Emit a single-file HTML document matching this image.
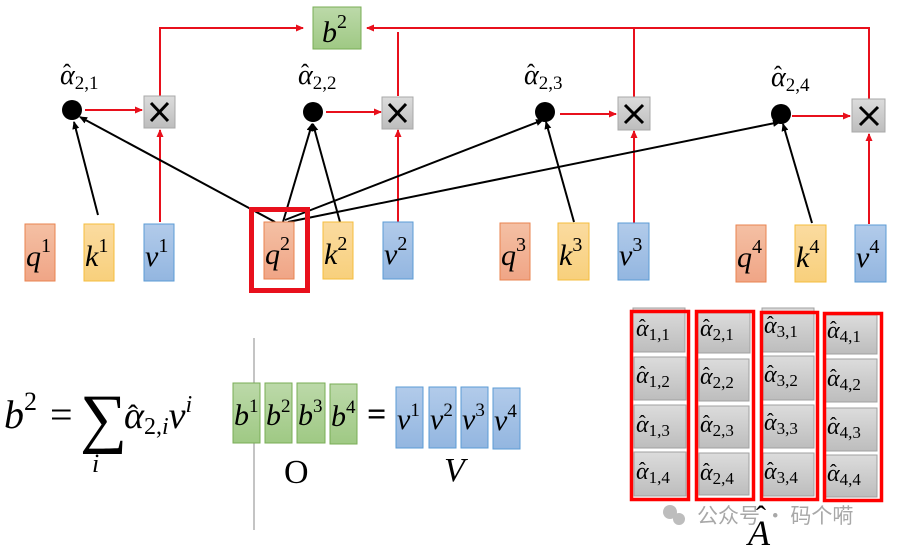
<!DOCTYPE html>
<html><head><meta charset="utf-8"><style>
html,body{margin:0;padding:0;background:#fff}
svg{display:block}
text{font-family:"Liberation Serif","DejaVu Serif",serif;font-style:italic;fill:#000}
.up{font-style:normal}
</style></head><body>
<svg width="899" height="551" viewBox="0 0 899 551" xmlns="http://www.w3.org/2000/svg">
<defs>
<linearGradient id="gq" x1="0" y1="0" x2="0" y2="1"><stop offset="0" stop-color="#f4c0a4"/><stop offset="1" stop-color="#f0a586"/></linearGradient>
<linearGradient id="gk" x1="0" y1="0" x2="0" y2="1"><stop offset="0" stop-color="#fbdba0"/><stop offset="1" stop-color="#f8d07c"/></linearGradient>
<linearGradient id="gv" x1="0" y1="0" x2="0" y2="1"><stop offset="0" stop-color="#b2cbea"/><stop offset="1" stop-color="#93b6e0"/></linearGradient>
<linearGradient id="gb" x1="0" y1="0" x2="0" y2="1"><stop offset="0" stop-color="#bcd9a9"/><stop offset="1" stop-color="#9fc984"/></linearGradient>
<linearGradient id="gg" x1="0" y1="0" x2="0" y2="1"><stop offset="0" stop-color="#dcdcdc"/><stop offset="1" stop-color="#bdbdbd"/></linearGradient>
<marker id="ar" markerWidth="8" markerHeight="8" refX="7" refY="4" orient="auto" markerUnits="userSpaceOnUse"><path d="M0,0.5 L8,4 L0,7.5z" fill="#e8101c"/></marker>
<marker id="ab" markerWidth="8" markerHeight="8" refX="7" refY="4" orient="auto" markerUnits="userSpaceOnUse"><path d="M0,0.5 L8,4 L0,7.5z" fill="#000"/></marker>
</defs>

<g stroke="#e8101c" stroke-width="2" fill="none">
<polyline points="160,96 160,28 303,28" marker-end="url(#ar)"/>
<polyline points="869,99 869,28 367,28" marker-end="url(#ar)"/>
<line x1="398" y1="96" x2="398" y2="32"/>
<line x1="634" y1="97" x2="634" y2="28"/>
<line x1="85" y1="110" x2="142" y2="110" marker-end="url(#ar)"/>
<line x1="326" y1="112" x2="381" y2="112" marker-end="url(#ar)"/>
<line x1="560" y1="114" x2="616" y2="114" marker-end="url(#ar)"/>
<line x1="792" y1="116" x2="850" y2="116" marker-end="url(#ar)"/>
<line x1="160" y1="222" x2="160" y2="130" marker-end="url(#ar)"/>
<line x1="398" y1="222" x2="398" y2="130" marker-end="url(#ar)"/>
<line x1="634" y1="223" x2="634" y2="131" marker-end="url(#ar)"/>
<line x1="869" y1="224" x2="869" y2="134" marker-end="url(#ar)"/>
</g>
<g stroke="#000" stroke-width="2" fill="none" marker-end="url(#ab)">
<line x1="98" y1="215" x2="74" y2="122"/>
<line x1="275" y1="222" x2="80" y2="117"/>
<line x1="283" y1="222" x2="312" y2="124"/>
<line x1="340" y1="222" x2="313" y2="124"/>
<line x1="285" y1="220" x2="543" y2="120"/>
<line x1="288" y1="222" x2="780" y2="122"/>
<line x1="574" y1="222" x2="546" y2="122"/>
<line x1="812" y1="223" x2="783" y2="124"/>
</g>

<rect x="313" y="7" width="48" height="42" fill="url(#gb)" stroke="#78ad55"/>
<text x="322" y="42" font-size="30">b<tspan font-size="20" dy="-14" class="up">2</tspan></text>

<g fill="#000"><circle cx="72" cy="110" r="10"/><circle cx="313" cy="112" r="10"/><circle cx="545" cy="112" r="10"/><circle cx="781" cy="114" r="10"/></g>
<g font-size="28">
<text x="60" y="84">α<tspan font-size="19" dy="5" class="up">2,1</tspan></text>
<text x="298" y="84">α<tspan font-size="19" dy="5" class="up">2,2</tspan></text>
<text x="524" y="84">α<tspan font-size="19" dy="5" class="up">2,3</tspan></text>
<text x="771" y="86">α<tspan font-size="19" dy="5" class="up">2,4</tspan></text>
</g>
<g font-size="24">
<text class="up" x="63" y="81">ˆ</text><text class="up" x="301" y="81">ˆ</text><text class="up" x="527" y="81">ˆ</text><text class="up" x="774" y="83">ˆ</text>
</g>
<g fill="url(#gg)" stroke="#a8a8a8">
<rect x="144" y="96" width="31" height="32"/><rect x="382" y="97" width="31" height="32"/><rect x="618" y="97" width="32" height="33"/><rect x="852" y="99" width="33" height="33"/>
</g>
<g stroke="#000" stroke-width="3">
<path d="M151,103 L168,121 M168,103 L151,121"/>
<path d="M389,104 L406,122 M406,104 L389,122"/>
<path d="M625,105 L643,123 M643,105 L625,123"/>
<path d="M860,107 L878,125 M878,107 L860,125"/>
</g>

<g font-size="30">
<rect x="25" y="224" width="30" height="57" fill="url(#gq)" stroke="#e9834f"/><text x="26" y="266">q<tspan font-size="20" dy="-14" class="up">1</tspan></text>
<rect x="84" y="224" width="30" height="57" fill="url(#gk)" stroke="#f5bd3c"/><text x="85" y="266">k<tspan font-size="20" dy="-14" class="up">1</tspan></text>
<rect x="144" y="224" width="30" height="57" fill="url(#gv)" stroke="#5b9bd5"/><text x="145" y="266">v<tspan font-size="20" dy="-14" class="up">1</tspan></text>
<rect x="251.5" y="209.5" width="56" height="81" fill="none" stroke="#e8101c" stroke-width="5"/>
<rect x="264" y="222" width="30" height="57" fill="url(#gq)" stroke="#e9834f"/><text x="265" y="264">q<tspan font-size="20" dy="-14" class="up">2</tspan></text>
<rect x="323" y="222" width="30" height="57" fill="url(#gk)" stroke="#f5bd3c"/><text x="324" y="264">k<tspan font-size="20" dy="-14" class="up">2</tspan></text>
<rect x="383" y="222" width="30" height="57" fill="url(#gv)" stroke="#5b9bd5"/><text x="384" y="264">v<tspan font-size="20" dy="-14" class="up">2</tspan></text>
<rect x="500" y="223" width="30" height="57" fill="url(#gq)" stroke="#e9834f"/><text x="501" y="265">q<tspan font-size="20" dy="-14" class="up">3</tspan></text>
<rect x="558" y="223" width="31" height="57" fill="url(#gk)" stroke="#f5bd3c"/><text x="559" y="265">k<tspan font-size="20" dy="-14" class="up">3</tspan></text>
<rect x="618" y="223" width="31" height="57" fill="url(#gv)" stroke="#5b9bd5"/><text x="619" y="265">v<tspan font-size="20" dy="-14" class="up">3</tspan></text>
<rect x="736" y="225" width="30" height="57" fill="url(#gq)" stroke="#e9834f"/><text x="737" y="267">q<tspan font-size="20" dy="-14" class="up">4</tspan></text>
<rect x="795" y="225" width="31" height="57" fill="url(#gk)" stroke="#f5bd3c"/><text x="796" y="267">k<tspan font-size="20" dy="-14" class="up">4</tspan></text>
<rect x="855" y="225" width="31" height="57" fill="url(#gv)" stroke="#5b9bd5"/><text x="856" y="267">v<tspan font-size="20" dy="-14" class="up">4</tspan></text>
</g>

<text x="4" y="428" font-size="40">b<tspan font-size="26" dy="-18" class="up">2</tspan></text>
<text x="50" y="428" font-size="40" class="up">=</text>
<text x="80" y="440" font-size="66" class="up">∑</text>
<text x="92" y="472" font-size="26">i</text>
<text x="124" y="428" font-size="38">α<tspan font-size="24" dy="6" class="up">2,</tspan><tspan font-size="24">i</tspan><tspan dy="-6">v</tspan><tspan font-size="24" dy="-16">i</tspan></text>
<text class="up" x="128" y="425" font-size="30">ˆ</text>
<line x1="254" y1="338" x2="254" y2="530" stroke="#888" stroke-width="1"/>

<g font-size="30">
<rect x="233" y="383" width="27" height="60" fill="url(#gb)" stroke="#78ad55"/><text x="234" y="425">b<tspan font-size="19" dy="-13" class="up">1</tspan></text>
<rect x="265" y="383" width="27" height="60" fill="url(#gb)" stroke="#78ad55"/><text x="266" y="425">b<tspan font-size="19" dy="-13" class="up">2</tspan></text>
<rect x="297" y="383" width="28" height="60" fill="url(#gb)" stroke="#78ad55"/><text x="298" y="425">b<tspan font-size="19" dy="-13" class="up">3</tspan></text>
<rect x="330" y="384" width="27" height="60" fill="url(#gb)" stroke="#78ad55"/><text x="331" y="426">b<tspan font-size="19" dy="-13" class="up">4</tspan></text>
<text x="367" y="425" font-size="34" font-weight="bold" class="up" font-family="Liberation Sans">=</text>
<rect x="396" y="387" width="27" height="61" fill="url(#gv)" stroke="#5b9bd5"/><text x="397" y="429">v<tspan font-size="19" dy="-13" class="up">1</tspan></text>
<rect x="429" y="387" width="27" height="61" fill="url(#gv)" stroke="#5b9bd5"/><text x="430" y="429">v<tspan font-size="19" dy="-13" class="up">2</tspan></text>
<rect x="461" y="387" width="27" height="61" fill="url(#gv)" stroke="#5b9bd5"/><text x="462" y="429">v<tspan font-size="19" dy="-13" class="up">3</tspan></text>
<rect x="493" y="388" width="27" height="61" fill="url(#gv)" stroke="#5b9bd5"/><text x="494" y="430">v<tspan font-size="19" dy="-13" class="up">4</tspan></text>
</g>
<text x="284" y="483" font-size="34" class="up">O</text>
<text x="444" y="481" font-size="34">V</text>

<g fill="url(#gg)" stroke="#a0a0a0">
<rect x="633" y="308" width="52" height="44"/><rect x="634" y="357" width="52" height="43"/><rect x="634" y="405" width="52" height="43"/><rect x="634" y="452" width="52" height="44"/>
<rect x="698" y="313" width="52" height="40"/><rect x="699" y="359" width="50" height="42"/><rect x="699" y="406" width="50" height="42"/><rect x="699" y="453" width="50" height="42"/>
<rect x="762" y="308" width="52" height="44"/><rect x="763" y="356" width="51" height="44"/><rect x="763" y="405" width="51" height="43"/><rect x="763" y="453" width="51" height="43"/>
<rect x="825" y="315" width="52" height="39"/><rect x="825" y="359" width="52" height="43"/><rect x="825" y="408" width="52" height="43"/><rect x="825" y="455" width="52" height="42"/>
</g>
<g font-size="24">
<text x="636" y="336">α<tspan font-size="17" dy="4" class="up">1,1</tspan></text>
<text x="636" y="383">α<tspan font-size="17" dy="4" class="up">1,2</tspan></text>
<text x="636" y="432">α<tspan font-size="17" dy="4" class="up">1,3</tspan></text>
<text x="636" y="479">α<tspan font-size="17" dy="4" class="up">1,4</tspan></text>
<text x="700" y="336">α<tspan font-size="17" dy="4" class="up">2,1</tspan></text>
<text x="700" y="384">α<tspan font-size="17" dy="4" class="up">2,2</tspan></text>
<text x="700" y="432">α<tspan font-size="17" dy="4" class="up">2,3</tspan></text>
<text x="700" y="480">α<tspan font-size="17" dy="4" class="up">2,4</tspan></text>
<text x="764" y="333">α<tspan font-size="17" dy="4" class="up">3,1</tspan></text>
<text x="764" y="382">α<tspan font-size="17" dy="4" class="up">3,2</tspan></text>
<text x="764" y="430">α<tspan font-size="17" dy="4" class="up">3,3</tspan></text>
<text x="764" y="479">α<tspan font-size="17" dy="4" class="up">3,4</tspan></text>
<text x="827" y="338">α<tspan font-size="17" dy="4" class="up">4,1</tspan></text>
<text x="827" y="386">α<tspan font-size="17" dy="4" class="up">4,2</tspan></text>
<text x="827" y="434">α<tspan font-size="17" dy="4" class="up">4,3</tspan></text>
<text x="827" y="481">α<tspan font-size="17" dy="4" class="up">4,4</tspan></text>
</g>
<g font-size="20">
<text class="up" x="639" y="333">ˆ</text><text class="up" x="639" y="380">ˆ</text><text class="up" x="639" y="429">ˆ</text><text class="up" x="639" y="476">ˆ</text>
<text class="up" x="703" y="333">ˆ</text><text class="up" x="703" y="381">ˆ</text><text class="up" x="703" y="429">ˆ</text><text class="up" x="703" y="477">ˆ</text>
<text class="up" x="767" y="330">ˆ</text><text class="up" x="767" y="379">ˆ</text><text class="up" x="767" y="427">ˆ</text><text class="up" x="767" y="476">ˆ</text>
<text class="up" x="830" y="335">ˆ</text><text class="up" x="830" y="383">ˆ</text><text class="up" x="830" y="431">ˆ</text><text class="up" x="830" y="478">ˆ</text>
</g>
<g fill="none" stroke="#f00" stroke-width="3.5">
<rect x="631.5" y="311.5" width="57" height="188"/>
<rect x="696.5" y="311.5" width="57" height="188"/>
<rect x="761.5" y="312.5" width="56" height="187"/>
<rect x="824.5" y="313.5" width="57" height="187"/>
</g>
<text x="748" y="545" font-size="36">A</text>
<text class="up" x="756" y="526" font-size="30">ˆ</text>
<g fill="#bdbdbd"><circle cx="670" cy="512" r="7"/><circle cx="679" cy="519" r="6"/></g>
<text x="697" y="523" font-size="21" class="up" style="fill:#a8a8a8;font-family:'Noto Sans CJK SC',sans-serif">公众号 · 码个嗬</text>
</svg>
</body></html>
